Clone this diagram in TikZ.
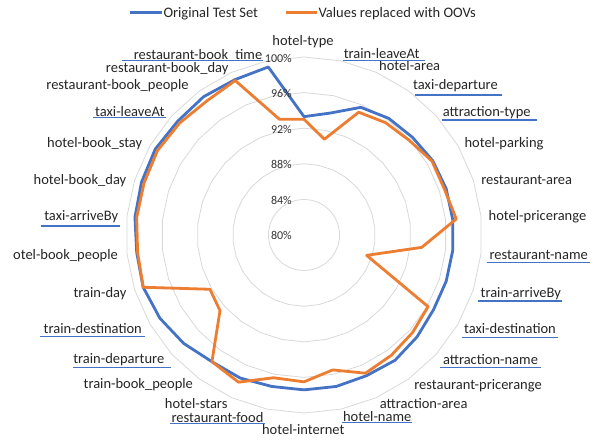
\documentclass[tikz,border=0pt]{standalone}
\usepackage{fontspec}
\setmainfont{Carlito}
\definecolor{xblue}{HTML}{4472C4}
\definecolor{xorange}{HTML}{ED7D31}
\definecolor{xgrid}{HTML}{D9D9D9}
\tikzset{
  lbl/.style={anchor=base, inner sep=0pt, font=\fontsize{14.5}{16}\selectfont, text=black!85},
  pct/.style={anchor=east, inner sep=0pt, font=\fontsize{12}{14}\selectfont, text=black!80},
  uline/.style={draw=xblue, line width=1.3pt},
  gridring/.style={draw=xgrid, line width=0.8pt},
  series/.style={line width=2.8pt, line join=round},
  legtxt/.style={anchor=base west, inner sep=0pt, font=\fontsize{14.5}{16}\selectfont, text=black!85}
}
\begin{document}
\begin{tikzpicture}[x=1pt,y=1pt]
\useasboundingbox (0,0) rectangle (595,441);
\fill[white] (0,0) rectangle (595,441);
% chart
\begin{scope}[shift={(304,206)}]
  \foreach \k in {1,...,5}{
    \draw[gridring] (90:{35.6*\k}) \foreach \j in {1,...,29}{ -- ({90-12*\j}:{35.6*\k}) } -- cycle;
  }
  \foreach \v [count=\i from 0] in {93.3,94.0,95.7,96.2,96.4,96.7,96.8,96.8,96.8,96.8,96.8,97.1,97.4,97.3,97.4,97.4,97.4,97.6,97.6,98.2,98.7,99.0,98.9,99.1,99.2,99.3,99.1,99.2,99.1,99.3}
    \coordinate (b\i) at ({90-12*\i}:{(\v-80)*8.9});
  \foreach \v [count=\i from 0] in {93.0,91.0,95.1,95.6,95.9,96.6,96.6,97.2,93.3,87.4,96.1,96.4,96.7,97.0,95.5,96.5,96.4,98.1,97.6,92.7,92.2,99.0,98.8,98.9,98.9,99.0,98.8,98.6,99.0,93.3}
    \coordinate (o\i) at ({90-12*\i}:{(\v-80)*8.9});
  \draw[series, xblue] (b0) \foreach \i in {1,...,29}{ -- (b\i) } -- cycle;
  \draw[series, xorange] (o0) \foreach \i in {1,...,29}{ -- (o\i) } -- cycle;
\end{scope}
% percent labels
\node[pct] (p80) at (292,205.3) {80\%};
\node[pct] (p84) at (292,240.6) {84\%};
\node[pct] (p88) at (292,276.2) {88\%};
\node[pct] (p92) at (292,311.8) {92\%};
\node[pct] (p96) at (292,347.4) {96\%};
\node[pct] (p100) at (292,383) {100\%};
% category labels
\node[lbl] (l0) at (303,395) {hotel-type};
\node[lbl] (l1) at (381.7,382) {train-leaveAt};
\node[lbl] (l2) at (409.7,370) {hotel-area};
\node[lbl] (l3) at (455.5,351) {taxi-departure};
\node[lbl] (l4) at (486.7,324) {attraction-type};
\node[lbl] (l5) at (504,293.3) {hotel-parking};
\node[lbl] (l6) at (526.7,256.7) {restaurant-area};
\node[lbl] (l7) at (537.5,220) {hotel-pricerange};
\node[lbl] (l8) at (538.7,181) {restaurant-name};
\node[lbl] (l9) at (520.8,143.3) {train-arriveBy};
\node[lbl] (l10) at (510,107.7) {taxi-destination};
\node[lbl] (l11) at (490.5,76.7) {attraction-name};
\node[lbl] (l12) at (478,51.7) {restaurant-pricerange};
\node[lbl] (l13) at (423.7,32) {attraction-area};
\node[lbl] (l14) at (377.2,19.3) {hotel-name};
\node[lbl] (l15) at (303.3,6) {hotel-internet};
\node[lbl] (l16) at (217.5,18.7) {restaurant-food};
\node[lbl] (l17) at (196.2,32) {hotel-stars};
\node[lbl] (l18) at (138.3,52) {train-book\_people};
\node[lbl] (l19) at (118.8,77) {train-departure};
\node[lbl] (l20) at (92.8,107.7) {train-destination};
\node[lbl] (l21) at (100,143.3) {train-day};
\node[lbl] (l22) at (65.5,181) {otel-book\_people};
\node[lbl] (l23) at (81.2,220) {taxi-arriveBy};
\node[lbl] (l24) at (80,256.7) {hotel-book\_day};
\node[lbl] (l25) at (94.7,293.3) {hotel-book\_stay};
\node[lbl] (l26) at (129.8,324.3) {taxi-leaveAt};
\node[lbl] (l27) at (117.5,351) {restaurant-book\_people};
\node[lbl] (l28) at (167.2,368.7) {restaurant-book\_day};
\node[lbl] (l29) at (198,381) {restaurant-book\_time};
% underlines
\draw[uline] (342.7,380.3) -- (425,380.3);
\draw[uline] (415,346) -- (501.7,346);
\draw[uline] (441.7,321) -- (536.5,321);
\draw[uline] (486.7,178.3) -- (590,178.3);
\draw[uline] (478.3,140) -- (561.7,140);
\draw[uline] (461.7,103.7) -- (557.7,103.7);
\draw[uline] (440,73.3) -- (540.7,73.3);
\draw[uline] (341.7,18.3) -- (411.7,18.3);
\draw[uline] (170,17.7) -- (265,17.7);
\draw[uline] (73.3,73.3) -- (170.7,73.3);
\draw[uline] (40,104.3) -- (145,104.3);
\draw[uline] (41,215) -- (120,215);
\draw[uline] (93,323.7) -- (166,323.7);
\draw[uline] (121.7,380.3) -- (263.3,380.3);
% legend
\coordinate (lb1) at (130,428.7);
\coordinate (lb2) at (161.7,428.7);
\coordinate (lo1) at (286,428.7);
\coordinate (lo2) at (316.7,428.7);
\draw[xblue, line width=2.8pt] (lb1) -- (lb2);
\draw[xorange, line width=2.8pt] (lo1) -- (lo2);
\node[legtxt] (t1) at (163.3,423.2) {Original Test Set};
\node[legtxt] (t2) at (318.3,423.2) {Values replaced with OOVs};
\end{tikzpicture}
\end{document}
